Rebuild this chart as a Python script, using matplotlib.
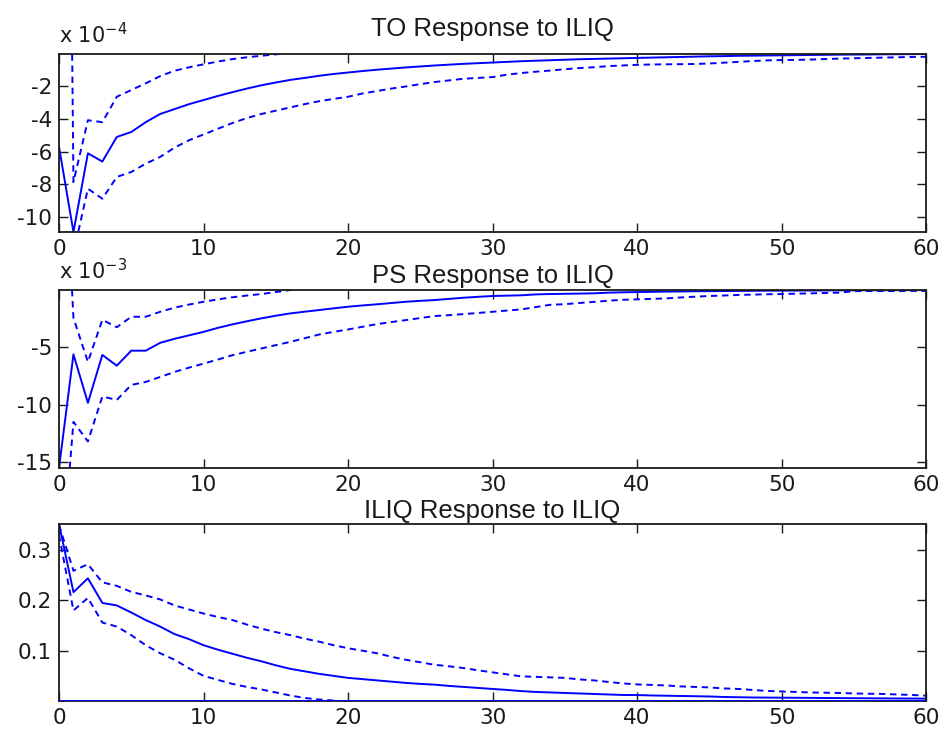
import numpy as np
import matplotlib
matplotlib.use("Agg")
import matplotlib.pyplot as plt
from matplotlib.ticker import FuncFormatter

plt.rcParams['font.family'] = ['Liberation Sans', 'DejaVu Sans']
plt.rcParams['mathtext.fontset'] = 'custom'
plt.rcParams['mathtext.rm'] = 'DejaVu Sans'
plt.rcParams['mathtext.default'] = 'regular'
plt.rcParams['axes.unicode_minus'] = False

horizon = np.arange(0, 61)
x_ticks = [0, 10, 20, 30, 40, 50, 60]

# ---- TO response to ILIQ (units of 1e-4) ----
to_mid = [-5.7, -10.9, -6.1, -6.6, -5.1, -4.8, -4.2, -3.7, -3.4, -3.1,
          -2.85, -2.6, -2.37, -2.15, -1.95, -1.78, -1.62, -1.5, -1.37, -1.26,
          -1.17, -1.08, -1.0, -0.93, -0.86, -0.8, -0.74, -0.69, -0.64, -0.6,
          -0.56, -0.52, -0.48, -0.45, -0.42, -0.39, -0.36, -0.34, -0.32, -0.3,
          -0.28, -0.26, -0.24, -0.22, -0.2, -0.18, -0.17, -0.15, -0.14, -0.13,
          -0.12, -0.11, -0.1, -0.09, -0.08, -0.075, -0.07, -0.06, -0.055, -0.05, -0.04]
to_lo = [-14.0, -12.2, -8.26, -8.87, -7.54, -7.24, -6.73, -6.32, -5.75, -5.3,
         -4.95, -4.6, -4.25, -3.95, -3.7, -3.5, -3.3, -3.1, -2.92, -2.78,
         -2.65, -2.45, -2.3, -2.15, -2.02, -1.88, -1.75, -1.65, -1.55, -1.5,
         -1.45, -1.3, -1.2, -1.12, -1.05, -0.97, -0.9, -0.85, -0.78, -0.74,
         -0.7, -0.68, -0.67, -0.66, -0.65, -0.62, -0.57, -0.52, -0.47, -0.43,
         -0.41, -0.4, -0.38, -0.35, -0.32, -0.3, -0.28, -0.26, -0.24, -0.22, -0.21]
to_hi = [80.0, -7.85, -4.08, -4.2, -2.65, -2.24, -1.83, -1.39, -1.06, -0.85,
         -0.67, -0.5, -0.35, -0.24, -0.15, -0.06, 0.02, 0.08, 0.13, 0.17,
         0.2, 0.22, 0.24, 0.25, 0.26, 0.26, 0.26, 0.26, 0.25, 0.25,
         0.24, 0.23, 0.22, 0.21, 0.2, 0.19, 0.18, 0.17, 0.16, 0.15,
         0.14, 0.13, 0.12, 0.11, 0.1, 0.095, 0.09, 0.085, 0.08, 0.075,
         0.07, 0.065, 0.06, 0.055, 0.05, 0.048, 0.045, 0.043, 0.04, 0.038, 0.035]
to_scale = 1e-4
to_yticks = [-10, -8, -6, -4, -2]

# ---- PS response to ILIQ (units of 1e-3) ----
ps_mid = [-15.5, -5.65, -9.85, -5.7, -6.63, -5.33, -5.33, -4.65, -4.3, -4.0,
          -3.7, -3.35, -3.05, -2.78, -2.53, -2.3, -2.1, -1.95, -1.81, -1.66,
          -1.52, -1.41, -1.31, -1.2, -1.09, -1.01, -0.94, -0.84, -0.74, -0.66,
          -0.59, -0.56, -0.53, -0.45, -0.42, -0.4, -0.38, -0.36, -0.3, -0.27,
          -0.25, -0.23, -0.21, -0.2, -0.18, -0.17, -0.16, -0.15, -0.14, -0.13,
          -0.125, -0.12, -0.115, -0.11, -0.1, -0.095, -0.09, -0.085, -0.08, -0.075, -0.07]
ps_lo = [-27.0, -11.5, -13.2, -9.3, -9.6, -8.3, -8.04, -7.61, -7.17, -6.8,
         -6.45, -6.1, -5.72, -5.43, -5.14, -4.85, -4.57, -4.25, -3.93, -3.7,
         -3.49, -3.26, -3.03, -2.85, -2.68, -2.5, -2.33, -2.25, -2.16, -2.06,
         -1.96, -1.85, -1.75, -1.55, -1.35, -1.3, -1.2, -1.1, -1.0, -0.92,
         -0.88, -0.84, -0.8, -0.72, -0.65, -0.59, -0.55, -0.5, -0.47, -0.44,
         -0.42, -0.39, -0.36, -0.33, -0.3, -0.17, -0.16, -0.16, -0.16, -0.15, -0.15]
ps_hi = [22.0, -2.5, -6.3, -2.65, -3.3, -2.39, -2.39, -1.96, -1.6, -1.33,
         -1.09, -0.88, -0.7, -0.55, -0.42, -0.25, -0.07, 0.05, 0.12, 0.17,
         0.2, 0.22, 0.23, 0.24, 0.24, 0.24, 0.23, 0.23, 0.22, 0.21,
         0.2, 0.19, 0.18, 0.17, 0.16, 0.15, 0.14, 0.13, 0.12, 0.11,
         0.1, 0.095, 0.09, 0.085, 0.08, 0.075, 0.07, 0.065, 0.06, 0.058,
         0.055, 0.052, 0.05, 0.048, 0.046, 0.044, 0.042, 0.04, 0.038, 0.036, 0.035]
ps_scale = 1e-3
ps_yticks = [-15, -10, -5]

# ---- ILIQ response to ILIQ ----
il_mid = [0.352, 0.2165, 0.244, 0.195, 0.19, 0.176, 0.161, 0.148, 0.133, 0.123,
          0.111, 0.102, 0.094, 0.086, 0.079, 0.071, 0.064, 0.059, 0.054, 0.05,
          0.046, 0.0435, 0.041, 0.0385, 0.036, 0.034, 0.0325, 0.030, 0.028, 0.026,
          0.024, 0.022, 0.0197, 0.018, 0.017, 0.016, 0.015, 0.014, 0.013, 0.012,
          0.0118, 0.011, 0.0105, 0.010, 0.0095, 0.009, 0.008, 0.0075, 0.007, 0.0068,
          0.0066, 0.0064, 0.0062, 0.006, 0.0058, 0.0056, 0.0054, 0.0052, 0.005, 0.0049, 0.0047]
il_hi = [0.35, 0.259, 0.272, 0.236, 0.229, 0.217, 0.21, 0.202, 0.19, 0.182,
         0.174, 0.167, 0.161, 0.152, 0.144, 0.137, 0.131, 0.124, 0.118, 0.111,
         0.105, 0.1, 0.095, 0.088, 0.082, 0.077, 0.072, 0.069, 0.0655, 0.061,
         0.057, 0.053, 0.049, 0.048, 0.047, 0.046, 0.043, 0.041, 0.038, 0.035,
         0.033, 0.032, 0.031, 0.029, 0.028, 0.027, 0.025, 0.024, 0.022, 0.02,
         0.019, 0.018, 0.017, 0.0165, 0.016, 0.015, 0.0145, 0.014, 0.013, 0.012, 0.0106]
il_lo = [0.33, 0.18, 0.205, 0.156, 0.148, 0.131, 0.111, 0.095, 0.082, 0.065,
         0.05, 0.042, 0.034, 0.028, 0.023, 0.017, 0.011, 0.006, 0.003, 0.001,
         -0.001, -0.002, -0.003, -0.004, -0.005, -0.005, -0.006, -0.006, -0.006, -0.006,
         -0.006, -0.006, -0.006, -0.006, -0.006, -0.006, -0.005, -0.005, -0.005, -0.005,
         -0.005, -0.005, -0.004, -0.004, -0.004, -0.004, -0.004, -0.003, -0.003, -0.003,
         -0.003, -0.003, -0.003, -0.002, -0.002, -0.002, -0.002, -0.002, -0.002, -0.002, -0.002]
il_yticks = [0.1, 0.2, 0.3]
zero_level = 0.0

titles = ['TO Response to ILIQ', 'PS Response to ILIQ', 'ILIQ Response to ILIQ']

W, H = 943, 734
fig = plt.figure(figsize=(W / 100, H / 100), dpi=100)
fig.patch.set_facecolor('white')

left_px, right_px = 59, 926
panels_px = [(54, 232), (290, 468), (524, 701)]
axes = []
for (top, bot) in panels_px:
    ax = fig.add_axes([left_px / W, 1 - bot / H, (right_px - left_px) / W, (bot - top) / H])
    axes.append(ax)

blue = '#0000ff'
ink = '#1a1a1a'
lw = 1.4
dash = (0, (3.3, 2.4))
title_pads = [13, 5, 4.3]
tick_fs = 15.5
title_fs = 18.5
tick_family = 'DejaVu Sans'

def style(ax):
    ax.set_xlim(horizon[0], horizon[-1])
    ax.set_xticks(x_ticks)
    ax.tick_params(direction='in', length=6.5, width=1.0, top=True, right=True,
                   labelsize=tick_fs, pad=5, colors=ink, labelfontfamily=tick_family)
    for s in ax.spines.values():
        s.set_linewidth(1.3)
        s.set_color(ink)

datasets = [
    (to_mid, to_lo, to_hi, to_scale, to_yticks, '-4'),
    (ps_mid, ps_lo, ps_hi, ps_scale, ps_yticks, '-3'),
]
for i, (mid, lo, hi, sc, yt, ex) in enumerate(datasets):
    ax = axes[i]
    m = np.array(mid) * sc
    ax.plot(horizon, m, color=blue, lw=lw)
    ax.plot(horizon, np.array(lo) * sc, color=blue, lw=lw, linestyle=dash)
    ax.plot(horizon, np.array(hi) * sc, color=blue, lw=lw, linestyle=dash)
    ax.set_ylim(m.min(), m.max())
    ax.set_yticks([v * sc for v in yt])
    ax.yaxis.set_major_formatter(FuncFormatter(lambda v, p, sc=sc: '%g' % round(v / sc, 6)))
    style(ax)
    ax.annotate('x 10$^{%s}$' % ex, xy=(0.0, 1.0), xycoords='axes fraction',
                xytext=(0, 5), textcoords='offset points',
                ha='left', va='bottom', fontsize=15, color=ink, family=tick_family)
    ax.set_title(titles[i], fontsize=title_fs, pad=title_pads[i], color=ink)

ax = axes[2]
m = np.array(il_mid)
ax.plot(horizon, np.full(len(horizon), zero_level), color=blue, lw=lw, zorder=3)
ax.plot(horizon, m, color=blue, lw=lw)
ax.plot(horizon, il_lo, color=blue, lw=lw, linestyle=dash)
ax.plot(horizon, il_hi, color=blue, lw=lw, linestyle=dash)
ax.set_ylim(zero_level, m.max())
ax.set_yticks(il_yticks)
ax.yaxis.set_major_formatter(FuncFormatter(lambda v, p: '%g' % round(v, 6)))
style(ax)
ax.set_title(titles[2], fontsize=title_fs, pad=title_pads[2], color=ink)

fig.savefig('out.png', dpi=100)
